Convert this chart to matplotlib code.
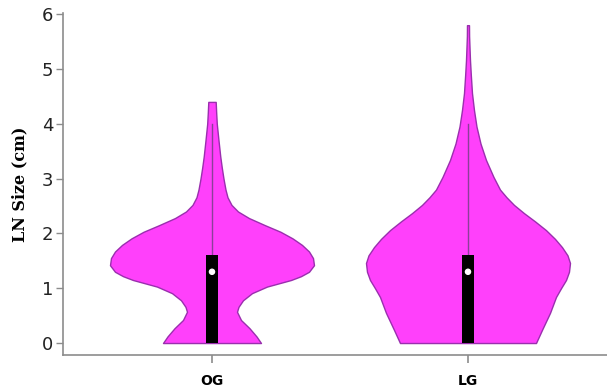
import matplotlib
matplotlib.use('Agg')
import matplotlib.pyplot as plt
import numpy as np

groups = ['OG', 'LG']

# violin outlines: size level (cm) and half width in pixels of the drawn outline
og_levels = [0.0, 0.12, 0.27, 0.42, 0.57, 0.66, 0.78, 0.91, 1.03, 1.09, 1.15, 1.22, 1.30,
             1.42, 1.55, 1.67, 1.79, 1.91, 2.03, 2.15, 2.28, 2.40, 2.52, 2.66, 2.8, 3.0,
             3.2, 3.4, 3.7, 4.0, 4.2, 4.4]
og_half_px = [49, 44.5, 37.5, 29, 25, 26.5, 31, 40, 55, 67, 79, 89, 97,
              102, 101, 97, 90, 80.5, 68.5, 53, 37, 26, 19.5, 15.5, 13.5, 11.5,
              9.8, 8.3, 6.5, 4.8, 4.2, 3.7]

lg_levels = [0.0, 0.24, 0.55, 0.84, 1.0, 1.15, 1.3, 1.46, 1.6, 1.75, 1.9, 2.06, 2.22,
             2.37, 2.52, 2.66, 2.8, 3.03, 3.34, 3.64, 3.95, 4.25, 4.56, 4.9, 5.16, 5.4,
             5.6, 5.8]
lg_half_px = [68, 74, 82, 88, 93, 98, 101, 102, 99.5, 94, 87, 78, 67,
              56, 46, 38.5, 32, 25.5, 18, 12.5, 8.5, 6, 4, 2.8, 2, 1.5,
              1.1, 1.0]

# box summary per group
q1 = [0.0, 0.0]
q3 = [1.6, 1.6]
medians = [1.3, 1.3]
whisker_hi = [4.0, 4.0]

px_per_slot = 256.0  # pixel distance between the two group centres

fill_col = '#ff40fb'
edge_col = '#9a2fae'
axis_col = '#8c8c8c'

fig = plt.figure(figsize=(6.07, 3.91), dpi=100)
ax = fig.add_axes([0.1038, 0.092, 0.8962, 0.875])

profiles = [(og_levels, og_half_px), (lg_levels, lg_half_px)]
for i, (lv, hw) in enumerate(profiles):
    lv = np.array(lv)
    hw = np.array(hw) / px_per_slot
    ax.fill_betweenx(lv, i - hw, i + hw, facecolor=fill_col, edgecolor=edge_col,
                     linewidth=1.0, joinstyle='round', zorder=2)

# whiskers, boxes and median dots
for i in range(len(groups)):
    ax.plot([i, i], [q3[i], whisker_hi[i]], color='#8a3f9a', linewidth=1.0, zorder=3)
    ax.bar(i, q3[i] - q1[i], bottom=q1[i], width=0.048, color='black', zorder=4)
    ax.scatter([i], [medians[i]], s=22, color='white', zorder=5, edgecolors='none')

ax.set_xlim(-0.582, 1.543)
ax.set_ylim(-0.219, 6.024)
ax.set_xticks(range(len(groups)))
ax.set_xticklabels(groups, fontsize=10, fontweight='bold', family='DejaVu Sans')
ax.set_yticks(range(0, 7))
ax.set_yticklabels([str(v) for v in range(0, 7)], fontsize=13, family='DejaVu Sans',
                   color='#222222')

for side in ['top', 'right']:
    ax.spines[side].set_visible(False)
for side in ['left', 'bottom']:
    ax.spines[side].set_color(axis_col)
    ax.spines[side].set_linewidth(1.2)
ax.tick_params(axis='y', colors=axis_col, length=5, width=1.0, labelcolor='#222222', pad=2)
ax.tick_params(axis='x', colors=axis_col, length=6, width=1.2, labelcolor='black', pad=8)

ax.set_ylabel('LN Size (cm)', fontsize=11.5, fontweight='bold', family='DejaVu Serif',
              labelpad=10)

plt.savefig('out.png', dpi=100)
